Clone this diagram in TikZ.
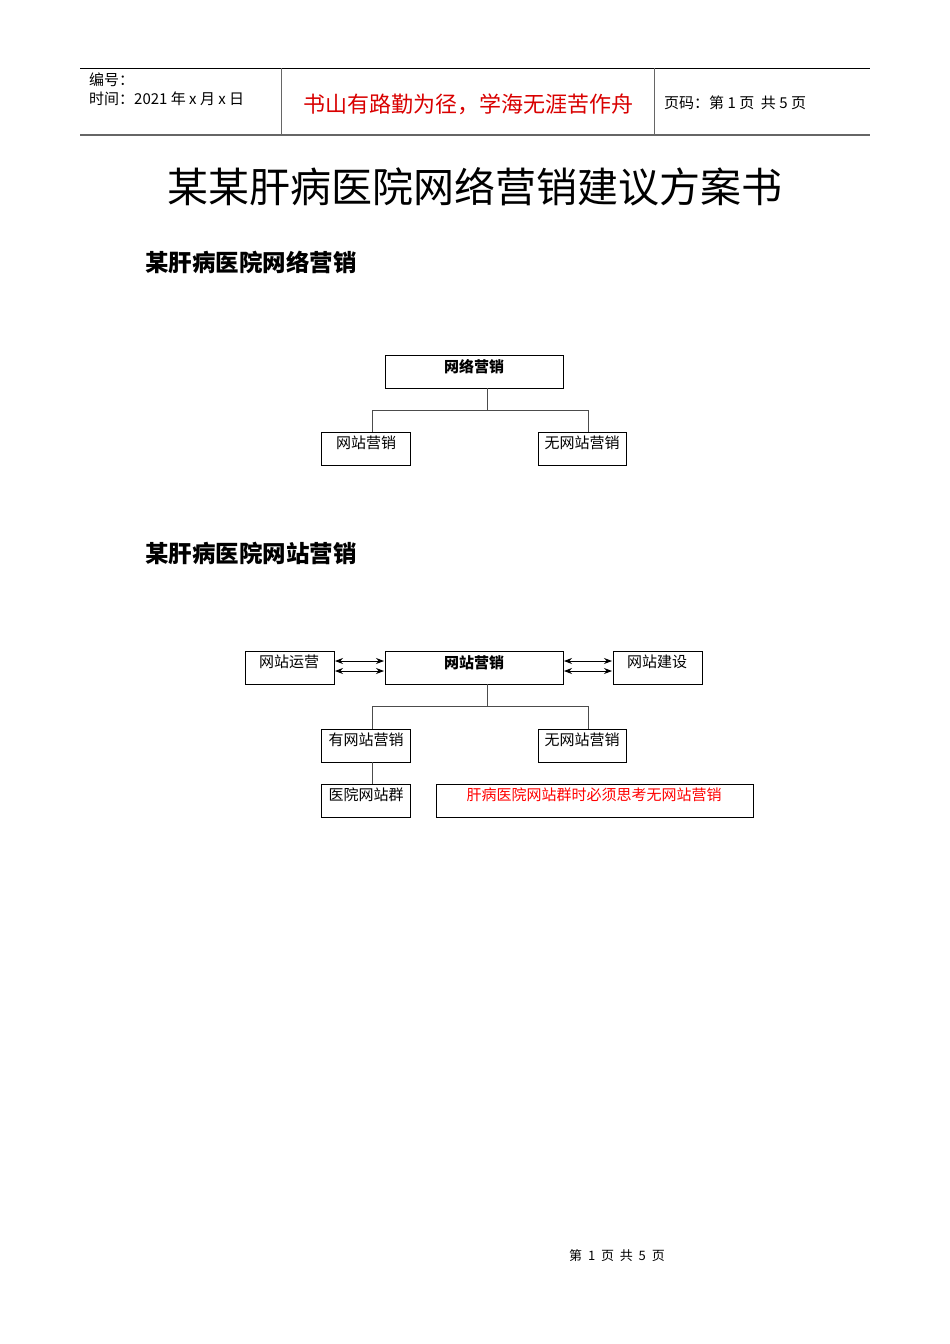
\documentclass[tikz,border=0pt]{standalone}
\usepackage{fontspec}
\setmainfont{Noto Sans CJK SC}
\usetikzlibrary{arrows.meta}
\begin{document}
\begin{tikzpicture}[x=1pt,y=-1pt,
  box/.style={draw,line width=0.8pt},
  lbl/.style={anchor=north,inner sep=0pt,font=\fontsize{15}{15}\selectfont},
  conn/.style={draw=black!70,line width=0.8pt},
  dbl/.style={line width=0.8pt,{Stealth[length=8pt,width=6pt]}-{Stealth[length=8pt,width=6pt]}}]
\useasboundingbox[fill=white] (0,0) rectangle (950,1344);
% header
\draw[line width=0.8pt] (80,68) -- (870,68);
\draw[line width=1.5pt,black!60] (80,135) -- (870,135);
\draw[black!60,line width=0.8pt] (281,68) -- (281,135) (654,68) -- (654,135);
\node[anchor=west,inner sep=0pt,font=\fontsize{15}{15}\selectfont] (h1) at (89,80) {编号：};
\node[anchor=west,inner sep=0pt,font=\fontsize{15}{15}\selectfont] (h2) at (89,99) {时间：2021 年 x 月 x 日};
\node[inner sep=0pt,text=red!85!black,font=\fontsize{22}{22}\selectfont] (h3) at (468,104) {书山有路勤为径，学海无涯苦作舟};
\node[anchor=west,inner sep=0pt,font=\fontsize{15}{15}\selectfont] (h4) at (664,103) {页码：第 1 页\ \ 共 5 页};
% title
\node[font=\fontsize{41}{41}\selectfont,inner sep=0pt] (title) at (475,187) {某某肝病医院网络营销建议方案书};
\node[anchor=west,inner sep=0pt,font=\bfseries\fontsize{23.5}{23.5}\selectfont] (s1) at (145,262) {某肝病医院网络营销};
\node[anchor=west,inner sep=0pt,font=\bfseries\fontsize{23.5}{23.5}\selectfont] (s2) at (145,553) {某肝病医院网站营销};
% diagram 1
\draw[box] (385,355) rectangle (563,388);
\node[lbl,font=\bfseries\fontsize{15}{15}\selectfont] (a) at (474,359) {网络营销};
\draw[box] (321,432) rectangle (410,465);
\node[lbl] (b) at (366,436) {网站营销};
\draw[box] (538,432) rectangle (626,465);
\node[lbl] (c) at (582,436) {无网站营销};
\draw[conn] (487,388) -- (487,410) (372,432) -- (372,410) -- (588,410) -- (588,432);
% diagram 2
\draw[box] (245,651) rectangle (334,684);
\node[lbl] (d) at (289,655) {网站运营};
\draw[box] (385,651) rectangle (563,684);
\node[lbl,font=\bfseries\fontsize{15}{15}\selectfont] (e) at (474,655) {网站营销};
\draw[box] (613,651) rectangle (702,684);
\node[lbl] (f) at (657,655) {网站建设};
\draw[dbl] (335,661) -- (384,661);
\draw[dbl] (335,671) -- (384,671);
\draw[dbl] (564,661) -- (612,661);
\draw[dbl] (564,671) -- (612,671);
\draw[conn] (487,684) -- (487,706) (372,729) -- (372,706) -- (588,706) -- (588,729);
\draw[box] (321,729) rectangle (410,762);
\node[lbl] (g) at (366,733) {有网站营销};
\draw[box] (538,729) rectangle (626,762);
\node[lbl] (h) at (582,733) {无网站营销};
\draw[conn] (372,762) -- (372,784);
\draw[box] (321,784) rectangle (410,817);
\node[lbl] (i) at (366,788) {医院网站群};
\draw[box] (436,784) rectangle (753,817);
\node[lbl,text=red] (j) at (594,788) {肝病医院网站群时必须思考无网站营销};
% footer
\node[inner sep=0pt,font=\fontsize{13}{13}\selectfont] (foot) at (617,1256) {第\ \ 1\ \ 页\ \ 共\ \ 5\ \ 页};
\end{tikzpicture}
\end{document}
